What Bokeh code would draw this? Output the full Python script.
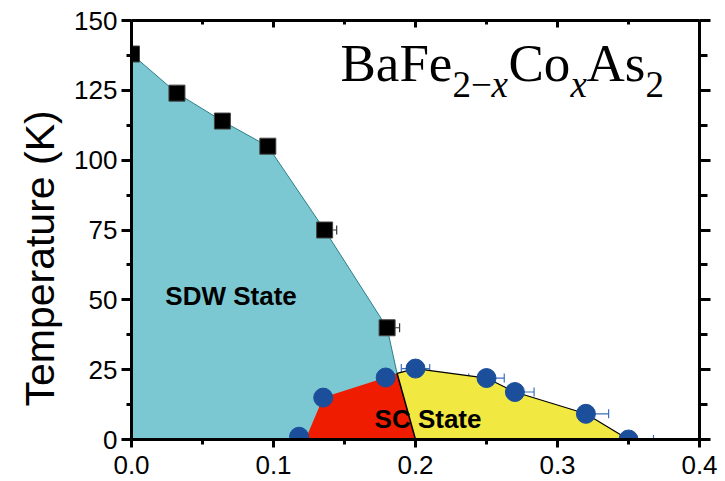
from bokeh.embed import file_html
from bokeh.resources import INLINE
from bokeh.plotting import figure
from bokeh.models import (ColumnDataSource, Range1d, LinearAxis, FixedTicker,
                          Label, Whisker)

# --- data -----------------------------------------------------------------
# SDW transition (black squares): Co content x and temperature (K)
sdw_x = [0.0, 0.032, 0.064, 0.096, 0.136, 0.180]
sdw_T = [138.0, 124.0, 114.0, 105.0, 75.0, 40.0]
sdw_xerr = [0.0, 0.0, 0.0, 0.0, 0.0085, 0.0088]

# superconducting Tc (blue circles)
sc_x = [0.118, 0.135, 0.179, 0.200, 0.250, 0.270, 0.320, 0.350]
sc_T = [1.0, 15.0, 22.2, 25.4, 22.0, 17.0, 9.2, 0.0]
sc_xerr = [0.006, 0.0082, 0.0075, 0.010, 0.0125, 0.0135, 0.016, 0.0176]

# phase-boundary points shared by the regions
join_x, join_T = 0.187, 23.7      # SDW line meets the SC dome
sc_onset_x = 0.1225               # SC region starts on the x axis
sc_edge_x = 0.200                 # SDW/SC boundary reaches T = 0
edge_bar_x, edge_bar_T, edge_bar_err = [0.200], [1.0], [0.010]

x_ticks = [0.0, 0.1, 0.2, 0.3, 0.4]
x_tick_labels = ["0.0", "0.1", "0.2", "0.3", "0.4"]
x_minor = [0.05, 0.15, 0.25, 0.35]
y_ticks = [0, 25, 50, 75, 100, 125, 150]
y_tick_labels = ["0", "25", "50", "75", "100", "125", "150"]
y_minor = [12.5, 37.5, 62.5, 87.5, 112.5, 137.5]

# --- colours / fonts --------------------------------------------------------
CYAN = "#7cc8d2"
RED = "#ef1c00"
YELLOW = "#f1e842"
BLUE = "#1b4f9c"
BAR_BLUE = "#3c6fbd"
SANS = "Liberation Sans"
SERIF = "Liberation Serif"

p = figure(width=725, height=481, output_backend="svg", toolbar_location=None,
           x_range=Range1d(0, 0.4), y_range=Range1d(0, 150),
           x_axis_location=None, y_axis_location=None)
p.min_border_left = 131
p.min_border_right = 26
p.min_border_top = 20
p.min_border_bottom = 42
p.outline_line_color = None
p.xgrid.visible = False
p.ygrid.visible = False
p.background_fill_color = "white"
p.border_fill_color = "white"

# --- phase regions ----------------------------------------------------------
sdw_poly_x = [0.0] + sdw_x + [join_x, sc_edge_x]
sdw_poly_T = [0.0] + sdw_T + [join_T, 0.0]
p.patch(sdw_poly_x, sdw_poly_T, fill_color=CYAN, line_color=None)
p.line(sdw_x + [join_x], sdw_T + [join_T], line_color="#2b7f88", line_width=1)

red_x = [sc_onset_x] + sc_x[1:3] + [join_x, sc_edge_x]
red_T = [0.0] + sc_T[1:3] + [join_T, 0.0]
p.patch(red_x, red_T, fill_color=RED, line_color=None)

yel_x = [join_x] + sc_x[3:] + [sc_edge_x]
yel_T = [join_T] + sc_T[3:] + [0.0]
p.patch(yel_x, yel_T, fill_color=YELLOW, line_color=None)
p.line([join_x] + sc_x[3:], [join_T] + sc_T[3:], line_color="black", line_width=1.2)
p.line([join_x, sc_edge_x], [join_T, 0.0], line_color="black", line_width=1.5)
p.line([sc_onset_x, sc_x[-1]], [0.3, 0.3], line_color="#b06a20", line_width=1.5)

# --- error bars ---------------------------------------------------------------
def bar_source(xs, ts, errs):
    return ColumnDataSource(dict(
        x=xs, T=ts,
        lo=[a - e for a, e in zip(xs, errs)],
        hi=[a + e for a, e in zip(xs, errs)]))


sdw_src = bar_source(sdw_x, sdw_T, sdw_xerr)
sc_src = bar_source(sc_x, sc_T, sc_xerr)
edge_src = bar_source(edge_bar_x, edge_bar_T, edge_bar_err)

for src, col in ((sdw_src, "#333333"), (sc_src, BAR_BLUE), (edge_src, BAR_BLUE)):
    w = Whisker(source=src, base="T", lower="lo", upper="hi", dimension="width",
                line_color=col, line_width=1.2)
    for head in (w.upper_head, w.lower_head):
        head.size = 9
        head.line_color = col
        head.line_width = 1.2
    p.add_layout(w)

# --- markers ------------------------------------------------------------------
p.scatter("x", "T", source=sdw_src, marker="square", size=16,
          fill_color="black", line_color="#444444", line_width=1)
p.scatter("x", "T", source=sc_src, marker="circle", size=19,
          fill_color=BLUE, line_color=BLUE)

# --- axes ---------------------------------------------------------------------
def style_axis(ax, ticks, minor, labels=None):
    ax.ticker = FixedTicker(ticks=ticks, minor_ticks=minor)
    ax.axis_line_width = 3
    ax.axis_line_color = "black"
    ax.major_tick_line_width = 3
    ax.minor_tick_line_width = 3
    ax.major_tick_line_color = "black"
    ax.minor_tick_line_color = "black"
    if labels is None:
        ax.major_label_text_font_size = "0px"
        ax.major_label_text_color = None
    else:
        ax.major_label_overrides = {t: s for t, s in zip(ticks, labels)}
        ax.major_label_text_font = SANS
        ax.major_label_text_font_size = "26px"
        ax.major_label_text_color = "black"


bottom = LinearAxis()
style_axis(bottom, x_ticks, x_minor, x_tick_labels)
bottom.major_tick_out, bottom.major_tick_in = 8, 0
bottom.minor_tick_out, bottom.minor_tick_in = 5, 0
bottom.major_label_standoff = 8
p.add_layout(bottom, "below")

left = LinearAxis()
style_axis(left, y_ticks, y_minor, y_tick_labels)
left.major_tick_out, left.major_tick_in = 10, 0
left.minor_tick_out, left.minor_tick_in = 5, 0
left.major_label_standoff = 4
# trailing no-break spaces push the rotated title towards the lower end
left.axis_label = "Temperature (K)" + "\u00a0" * 5
left.axis_label_text_font = SANS
left.axis_label_text_font_size = "41px"
left.axis_label_text_font_style = "normal"
left.axis_label_text_color = "black"
left.axis_label_standoff = 8
p.add_layout(left, "left")

top = LinearAxis()
style_axis(top, x_ticks, x_minor)
top.major_tick_out, top.major_tick_in = 0, 7
top.minor_tick_out, top.minor_tick_in = 0, 4
top.major_label_standoff = 0
p.add_layout(top, "above")

right = LinearAxis()
style_axis(right, y_ticks, y_minor)
right.major_tick_out, right.major_tick_in = 11, 0
right.minor_tick_out, right.minor_tick_in = 8, 0
right.major_label_standoff = 0
p.add_layout(right, "right")

# --- text -----------------------------------------------------------------
def add_text(x, y, txt, size, font=SANS, weight="normal", style="normal",
             dx=0, align="center"):
    p.add_layout(Label(x=x, y=y, x_offset=dx, text=txt,
                       text_align=align, text_baseline="middle",
                       text_font=font, text_font_size=size,
                       text_font_style=style if weight == "normal" else weight,
                       text_color="black"))


add_text(0.0701, 51.3, "SDW State", "26px", weight="bold")
add_text(0.2088, 7.2, "SC State", "26px", weight="bold")

# chemical formula, built from pieces: full-size symbols on one line,
# smaller subscripts on a lower line
main_y, sub_y = 134.8, 127.0
formula = [
    ("BaFe", 0, main_y, "53px", "normal"),
    ("2\u2212", 112, sub_y, "37px", "normal"),
    ("x", 151, sub_y, "37px", "italic"),
    ("Co", 168, main_y, "53px", "normal"),
    ("x", 230, sub_y, "37px", "italic"),
    ("As", 246, main_y, "53px", "normal"),
    ("2", 305, sub_y, "37px", "normal"),
]
for txt, dx, ty, size, style in formula:
    add_text(0.1472, ty, txt, size, font=SERIF, style=style, dx=dx, align="left")

open("out.html", "w").write(file_html(p, INLINE))
